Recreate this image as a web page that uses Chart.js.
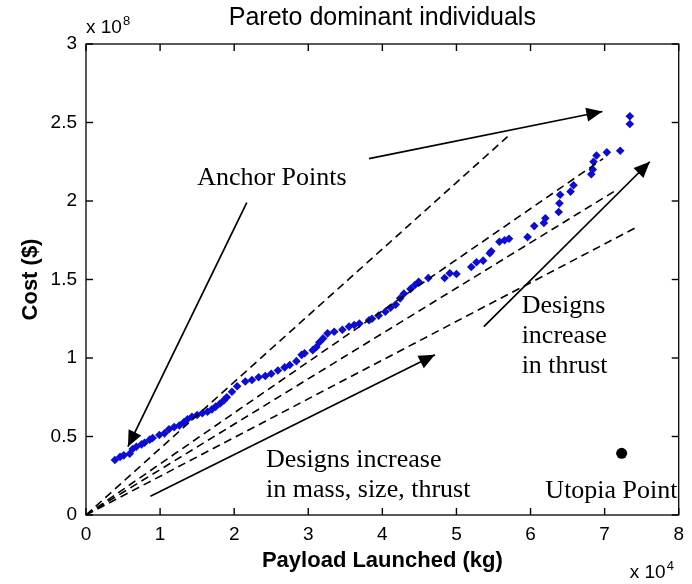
<!DOCTYPE html>
<html>
<head>
<meta charset="utf-8">
<script src="https://cdn.jsdelivr.net/npm/chart.js@4.4.0/dist/chart.umd.min.js"></script>
<style>
  html, body { margin: 0; background: #fff; }
  #wrap { width: 692px; height: 584px; }
</style>
</head>
<body>
<div id="wrap"><canvas id="pareto" width="692" height="584"></canvas></div>
<script>
// Pareto dominant designs: payload in units of 10^4 kg, cost in units of 10^8 $
const payload = [0.39, 0.46, 0.51, 0.59, 0.63, 0.68, 0.75, 0.79, 0.86, 0.90, 0.99, 1.06, 1.12, 1.19, 1.26,
  1.32, 1.37, 1.43, 1.50, 1.57, 1.64, 1.70, 1.75, 1.81, 1.86, 1.90, 1.97, 2.04, 2.15, 2.24, 2.33, 2.42,
  2.50, 2.59, 2.68, 2.75, 2.84, 2.91, 2.95, 3.06, 3.11, 3.15, 3.20, 3.26, 3.35, 3.46, 3.55, 3.62, 3.69,
  3.82, 3.86, 3.95, 4.04, 4.11, 4.18, 4.24, 4.29, 4.38, 4.44, 4.49, 4.62, 4.84, 4.91, 5.00, 5.20, 5.27,
  5.36, 5.45, 5.47, 5.58, 5.65, 5.71, 5.96, 6.05, 6.18, 6.20, 6.38, 6.39, 6.40, 6.54, 6.58, 6.82, 6.84, 6.85,
  6.89, 7.03, 7.21, 7.34, 7.34];
const cost = [0.35, 0.37, 0.38, 0.39, 0.42, 0.435, 0.45, 0.46, 0.48, 0.49, 0.51, 0.52, 0.546, 0.56, 0.57,
  0.59, 0.61, 0.626, 0.637, 0.648, 0.658, 0.673, 0.69, 0.71, 0.73, 0.75, 0.785, 0.82, 0.85, 0.86, 0.877, 0.885,
  0.90, 0.92, 0.94, 0.955, 0.98, 1.02, 1.03, 1.05, 1.07, 1.10, 1.125, 1.157, 1.167, 1.18, 1.20, 1.21, 1.22,
  1.24, 1.25, 1.27, 1.295, 1.32, 1.34, 1.38, 1.41, 1.44, 1.465, 1.486, 1.51, 1.51, 1.54, 1.535, 1.58, 1.61,
  1.62, 1.667, 1.68, 1.74, 1.75, 1.76, 1.77, 1.84, 1.86, 1.89, 1.93, 1.985, 2.04, 2.06, 2.10, 2.17, 2.20, 2.25,
  2.29, 2.31, 2.32, 2.54, 2.49];

// constant cost-per-kg rays out of the origin (far end of each)
const rayPayload = [5.69, 6.98, 7.16, 7.42];
const rayCost = [2.41, 2.27, 2.07, 1.83];

// annotation arrows, tail -> head
const arrowFromX = [3.82, 2.17, 5.37, 0.87];
const arrowFromY = [2.27, 1.99, 1.20, 0.12];
const arrowToX = [6.97, 0.566, 7.61, 4.71];
const arrowToY = [2.57, 0.435, 2.25, 1.02];

const utopia = { x: 7.23, y: 0.393 };

const xTicks = [0, 1, 2, 3, 4, 5, 6, 7, 8];
const yTicks = [0, 0.5, 1, 1.5, 2, 2.5, 3];

// text notes: left edge / first baseline, in axis units
const notes = [
  { lines: ['Anchor Points'], x: 1.50, y: 2.10 },
  { lines: ['Designs', 'increase', 'in thrust'], x: 5.88, y: 1.287 },
  { lines: ['Designs increase', 'in mass, size, thrust'], x: 2.43, y: 0.308 },
  { lines: ['Utopia Point'], x: 6.20, y: 0.110 }
];

const SANS = '"Liberation Sans", Arial, sans-serif';
const datasets = [];

rayPayload.forEach((px, i) => {
  datasets.push({
    data: [{ x: 0, y: 0 }, { x: px, y: rayCost[i] }],
    showLine: true, borderColor: '#000', borderWidth: 1.6, borderDash: [8, 5],
    pointRadius: 0
  });
});

arrowFromX.forEach((fx, i) => {
  datasets.push({
    data: [{ x: fx, y: arrowFromY[i] }, { x: arrowToX[i], y: arrowToY[i] }],
    showLine: true, borderColor: '#000', borderWidth: 1.7, pointRadius: 0
  });
});

datasets.push({
  data: [utopia], pointRadius: 5.5, backgroundColor: '#000', borderWidth: 0
});

datasets.push({
  data: payload.map((x, i) => ({ x, y: cost[i] })),
  pointStyle: 'rectRot', pointRadius: 4.3, backgroundColor: '#0c0cd8', borderWidth: 0
});

// x 10^n label: base text, then a raised exponent right after it
function drawExponent(ctx, left, baseline, exp) {
  ctx.font = '19px ' + SANS;
  ctx.fillText('x 10', left, baseline);
  const w = ctx.measureText('x 10').width;
  ctx.font = '13px ' + SANS;
  ctx.fillText(exp, left + w + 1, baseline - 8);
}

function tickMark(ctx, x0, y0, x1, y1) {
  ctx.beginPath();
  ctx.moveTo(x0, y0);
  ctx.lineTo(x1, y1);
  ctx.stroke();
}

const framePlugin = {
  id: 'frame',
  afterDatasetsDraw(chart) {
    const { ctx, scales: { x, y } } = chart;
    ctx.save();
    ctx.fillStyle = '#000';
    arrowToX.forEach((tx, i) => {
      const x1 = x.getPixelForValue(arrowFromX[i]), y1 = y.getPixelForValue(arrowFromY[i]);
      const x2 = x.getPixelForValue(tx), y2 = y.getPixelForValue(arrowToY[i]);
      const ang = Math.atan2(y2 - y1, x2 - x1);
      const len = 16, half = 7;
      const bx = x2 - len * Math.cos(ang), by = y2 - len * Math.sin(ang);
      ctx.beginPath();
      ctx.moveTo(x2, y2);
      ctx.lineTo(bx + half * Math.sin(ang), by - half * Math.cos(ang));
      ctx.lineTo(bx - half * Math.sin(ang), by + half * Math.cos(ang));
      ctx.closePath();
      ctx.fill();
    });
    ctx.restore();
  },
  afterDraw(chart) {
    const { ctx, chartArea: a, scales: { x, y } } = chart;
    ctx.save();
    ctx.strokeStyle = '#000';

    // MATLAB-style inward ticks on all four sides
    const tl = 7;
    ctx.lineWidth = 1.4;
    for (const v of xTicks) {
      const px = x.getPixelForValue(v);
      tickMark(ctx, px, a.bottom, px, a.bottom - tl);
      tickMark(ctx, px, a.top, px, a.top + tl);
    }
    for (const v of yTicks) {
      const py = y.getPixelForValue(v);
      tickMark(ctx, a.left, py, a.left + tl, py);
      tickMark(ctx, a.right, py, a.right - tl, py);
    }
    ctx.lineWidth = 1.3;
    ctx.strokeRect(a.left, a.top, a.right - a.left, a.bottom - a.top);

    ctx.fillStyle = '#000';
    ctx.textBaseline = 'alphabetic';
    ctx.textAlign = 'left';
    drawExponent(ctx, a.left, a.top - 11, '8');
    drawExponent(ctx, a.right - 49, a.bottom + 63, '4');

    // text notes
    ctx.font = '26px "Liberation Serif", "Times New Roman", serif';
    notes.forEach(n => {
      const px = x.getPixelForValue(n.x), py = y.getPixelForValue(n.y);
      n.lines.forEach((t, k) => ctx.fillText(t, px, py + k * 30));
    });
    ctx.restore();
  }
};

new Chart(document.getElementById('pareto'), {
  type: 'scatter',
  data: { datasets },
  plugins: [framePlugin],
  options: {
    responsive: false,
    animation: false,
    devicePixelRatio: 1,
    events: [],
    layout: { padding: 0 },
    plugins: {
      legend: { display: false },
      tooltip: { enabled: false },
      title: {
        display: true,
        text: 'Pareto dominant individuals',
        fullSize: false,
        color: '#000',
        font: { family: SANS, size: 25, weight: 'normal', lineHeight: 1.2 },
        padding: { top: 3.5, bottom: 10.5 }
      }
    },
    scales: {
      x: {
        type: 'linear', min: 0, max: 8,
        afterBuildTicks: s => { s.ticks = xTicks.map(v => ({ value: v })); },
        afterFit: s => { s.height = 69; },
        grid: { display: false, drawTicks: false },
        border: { display: false },
        ticks: {
          color: '#000', padding: 8, autoSkip: false, maxRotation: 0,
          font: { family: SANS, size: 19 },
          callback: v => String(v)
        },
        title: {
          display: true, text: 'Payload Launched (kg)', color: '#000',
          font: { family: SANS, size: 22, weight: 'bold', lineHeight: 1.2 },
          padding: { top: 0, bottom: 10 }
        }
      },
      y: {
        type: 'linear', min: 0, max: 3,
        afterBuildTicks: s => { s.ticks = yTicks.map(v => ({ value: v })); },
        afterFit: s => { s.width = 86; },
        grid: { display: false, drawTicks: false },
        border: { display: false },
        ticks: {
          color: '#000', padding: 9, autoSkip: false,
          font: { family: SANS, size: 19 },
          callback: v => String(v)
        },
        title: {
          display: true, text: 'Cost ($)', color: '#000',
          font: { family: SANS, size: 22, weight: 'bold', lineHeight: 1.2 },
          padding: { top: 18, bottom: 0 }
        }
      }
    }
  }
});
</script>
</body>
</html>
